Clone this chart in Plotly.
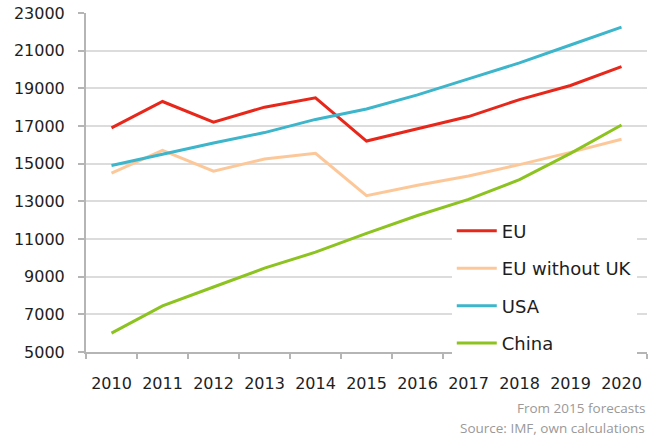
import plotly.graph_objects as go

years = ["2010", "2011", "2012", "2013", "2014", "2015", "2016", "2017", "2018", "2019", "2020"]
eu = [16900, 18300, 17200, 18000, 18500, 16200, 16850, 17500, 18400, 19150, 20150]
eu_without_uk = [14500, 15700, 14600, 15250, 15550, 13300, 13850, 14350, 14950, 15600, 16300]
usa = [14900, 15500, 16100, 16650, 17350, 17900, 18650, 19500, 20350, 21300, 22250]
china = [6000, 7450, 8450, 9450, 10300, 11300, 12250, 13100, 14150, 15550, 17050]
y_ticks = [5000, 7000, 9000, 11000, 13000, 15000, 17000, 19000, 21000, 23000]

series = [
    ("EU", eu, "#E8271B"),
    ("EU without UK", eu_without_uk, "#FDC899"),
    ("USA", usa, "#3DB5CB"),
    ("China", china, "#8CC320"),
]

fig = go.Figure()
for name, vals, col in series:
    fig.add_trace(go.Scatter(
        x=years, y=vals, name=name, mode="lines",
        line=dict(color=col, width=3), legendgroup=name,
    ))

fig.update_layout(
    width=649, height=438,
    margin=dict(l=86, r=2, t=13, b=86),
    paper_bgcolor="white", plot_bgcolor="white",
    font=dict(family="DejaVu Sans", color="#1e1e1e"),
    showlegend=True,
    legend=dict(
        x=0.652, y=0.411, xanchor="left", yanchor="top",
        bgcolor="white", font=dict(size=18, color="#1e1e1e"),
        tracegroupgap=11, itemwidth=40,
    ),
    annotations=[
        dict(text="From 2015 forecasts", x=1.0, y=-0.166, xref="paper", yref="paper",
             xanchor="right", yanchor="middle", showarrow=False,
             font=dict(family="Open Sans", size=13.5, color="#999999")),
        dict(text="Source: IMF, own calculations", x=1.0, y=-0.224, xref="paper", yref="paper",
             xanchor="right", yanchor="middle", showarrow=False,
             font=dict(family="Open Sans", size=13.5, color="#999999")),
    ],
)

fig.update_xaxes(
    type="category", range=[-0.5, 10.5],
    showline=True, linecolor="#b5b5b5", linewidth=2,
    ticks="outside", tickson="boundaries", ticklen=5, tickcolor="#b5b5b5", tickwidth=2,
    showgrid=False, tickfont=dict(size=16, color="#1e1e1e"),
    ticklabelstandoff=16,
)
fig.update_yaxes(
    range=[5000, 23000], tickvals=y_ticks, ticktext=[str(v) for v in y_ticks],
    showline=True, linecolor="#b5b5b5", linewidth=2,
    ticks="outside", ticklen=6, tickcolor="#b5b5b5", tickwidth=2,
    showgrid=True, gridcolor="#dcdcdc", gridwidth=2,
    zeroline=False, tickfont=dict(size=16, color="#1e1e1e"),
    ticklabelstandoff=10,
)

fig.write_html(
    "out.html",
    config={"displayModeBar": False},
    post_script="document.body.style.margin='0';document.body.style.overflow='hidden';",
)
